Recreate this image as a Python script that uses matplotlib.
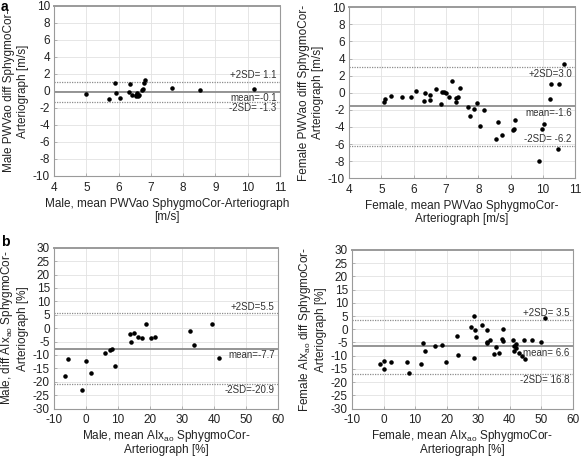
import matplotlib
matplotlib.use("Agg")
import matplotlib.pyplot as plt

plt.rcParams['font.family'] = ['Liberation Sans', 'DejaVu Sans']
plt.rcParams['mathtext.fontset'] = 'custom'
plt.rcParams['mathtext.rm'] = 'Liberation Sans'
plt.rcParams['mathtext.it'] = 'Liberation Sans:italic'
plt.rcParams['axes.unicode_minus'] = False

# a, male PWVao: mean vs diff
male_pwv_mean = [5.0, 5.69, 5.9, 5.92, 6.05, 6.34, 6.32, 6.41, 6.54, 6.57, 6.59, 6.63,
                 6.54, 6.71, 6.75, 6.8, 6.83, 7.65, 8.52, 10.2]
male_pwv_diff = [-0.4, -0.9, 0.94, -0.27, -0.78, 0.82, -0.16, -0.5, -0.43, -0.24, -0.6, -0.5,
                 -0.6, 0.08, 0.27, 0.9, 1.25, 0.3, 0.1, 0.2]
male_pwv_lines = [-0.1, 1.1, -1.3]

# a, female PWVao
female_pwv_mean = [5.08, 5.11, 5.29, 5.64, 5.91, 6.06, 6.32, 6.34, 6.5, 6.49, 6.7, 6.83,
                   6.88, 6.94, 6.99, 7.1, 7.2, 7.3, 7.32, 7.36, 7.43, 7.67, 7.73, 7.86,
                   7.96, 8.06, 8.18, 8.6, 8.55, 8.73, 9.15, 9.09, 9.07, 9.97, 10.03, 9.88,
                   10.47, 10.21, 10.26, 10.51, 10.64]
female_pwv_diff = [-1.09, -0.74, -0.39, -0.47, -0.55, 0.19, -0.97, 0.0, -0.31, -0.82, 0.47, -1.29,
                   0.12, 0.12, 0.0, -0.55, 1.36, -1.09, -0.66, -0.5, 0.55, -1.72, -2.77, -1.87,
                   -1.21, -3.9, -1.99, -3.43, -5.46, -4.95, -3.16, -4.25, -4.41, -4.21, -3.63, -8.03,
                   -6.63, -0.74, 0.97, 0.97, 3.39]
female_pwv_lines = [-1.6, 3.0, -6.2]

# b, male AIxao
male_aix_mean = [-6.67, -5.52, -1.35, 0.1, 1.46, 5.83, 7.6, 8.0, 9.06, 13.85, 14.2, 15.1,
                 16.35, 17.6, 18.75, 20.2, 21.5, 32.6, 33.85, 39.5, 41.7]
male_aix_diff = [-18.0, -11.6, -23.1, -12.1, -16.9, -9.3, -8.1, -7.6, -14.1, -2.2, -5.3, -1.96,
                 -3.2, -3.7, 1.47, -3.8, -3.4, -1.0, -6.2, 1.6, -11.3]
male_aix_lines = [-7.7, 5.5, -20.9]

# b, female AIxao
female_aix_mean = [-1.26, 0.21, 0.1, 2.2, 7.26, 8.0, 11.7, 12.6, 13.26, 16.3, 18.6, 19.8,
                   23.3, 23.7, 27.8, 28.7, 28.85, 29.3, 28.6, 31.3, 32.8, 32.7, 32.8, 33.8,
                   35.05, 35.6, 36.7, 37.7, 37.6, 38.0, 41.05, 41.3, 41.3, 42.0, 42.0, 42.85,
                   43.9, 44.8, 44.5, 47.0, 49.8, 51.2]
female_aix_diff = [-13.1, -11.95, -15.1, -12.2, -12.45, -16.7, -13.3, -5.1, -8.3, -6.5, -6.0, -12.2,
                   -2.4, -9.8, 1.0, 5.0, -0.1, -3.0, -10.8, 1.5, -0.1, -4.86, -5.35, -4.1,
                   -9.46, -6.6, -9.0, 0.0, -3.7, -4.4, -4.2, -8.3, -6.35, -5.5, -7.2, -9.0,
                   -10.1, -11.3, -4.1, -4.2, -4.7, 4.1]
female_aix_lines = [-6.5, 3.6, -17.0]

fig = plt.figure(figsize=(5.81, 4.57), dpi=100)


def bland_altman(rect, x, y, lines, labels, label_pos, xlim, xticks, ylim, yticks,
                 xlabel, ylabel, xpad=3):
    ax = fig.add_axes(rect)
    ax.set_xlim(*xlim)
    ax.set_ylim(*ylim)
    ax.set_xticks(xticks)
    ax.set_yticks(yticks)
    ax.grid(True, color='#e2e2e2', linewidth=0.6)
    ax.set_axisbelow(True)
    for s in ax.spines.values():
        s.set_color('#9a9a9a')
        s.set_linewidth(0.8)
    ax.spines['top'].set_linewidth(1.4)
    ax.tick_params(direction='in', length=2, width=0.5, color='#9a9a9a', labelsize=8.5,
                   labelcolor='#222222')
    ax.tick_params(axis='x', pad=4)
    ax.tick_params(axis='y', pad=3)

    # mean solid, +/-2SD dotted
    ax.axhline(lines[0], color='#8c8c8c', linewidth=1.3)
    ax.axhline(lines[1], color='#8c8c8c', linewidth=0.9, linestyle=(0, (1, 1)))
    ax.axhline(lines[2], color='#8c8c8c', linewidth=0.9, linestyle=(0, (1, 1)))
    ax.scatter(x, y, s=5, color='black', zorder=3)

    span = ylim[1] - ylim[0]
    for val, txt, pos in zip(lines, labels, label_pos):
        off = 0.008 * span if pos == 'above' else -0.008 * span
        va = 'bottom' if pos == 'above' else 'top'
        ax.text(xlim[1] - 0.015 * (xlim[1] - xlim[0]), val + off, txt, ha='right', va=va,
                fontsize=7, color='#333333')

    ax.set_xlabel(xlabel, fontsize=8.5, color='#222222', labelpad=xpad, linespacing=1.1)
    ax.set_ylabel(ylabel, fontsize=8.5, color='#222222', labelpad=3, linespacing=1.15)
    return ax


pwv_xticks = [4, 5, 6, 7, 8, 9, 10, 11]
pwv_yticks = [-10, -8, -6, -4, -2, 0, 2, 4, 6, 8, 10]
aix_xticks = [-10, 0, 10, 20, 30, 40, 50, 60]
aix_yticks = [-30, -25, -20, -15, -10, -5, 0, 5, 10, 15, 20, 25, 30]

bland_altman([0.093, 0.615, 0.389, 0.372], male_pwv_mean, male_pwv_diff, male_pwv_lines,
             ['mean=-0.1', '+2SD= 1.1', '-2SD= -1.3'], ['below', 'above', 'below'],
             (4, 11), pwv_xticks, (-10, 10), pwv_yticks,
             'Male, mean PWVao SphygmoCor-Arteriograph\n[m/s]',
             'Male PWVao diff SphygmoCor-\nArteriograph [m/s]')

bland_altman([0.601, 0.610, 0.389, 0.374], female_pwv_mean, female_pwv_diff, female_pwv_lines,
             ['mean=-1.6', '+2SD=3.0', '-2SD= -6.2'], ['below', 'below', 'above'],
             (4, 11), pwv_xticks, (-10, 10), pwv_yticks,
             'Female, mean PWVao SphygmoCor-\nArteriograph [m/s]',
             'Female PWVao diff SphygmoCor-\nArteriograph [m/s]')

bland_altman([0.093, 0.106, 0.3855, 0.352], male_aix_mean, male_aix_diff, male_aix_lines,
             ['mean=-7.7', '+2SD=5.5', '-2SD=-20.9'], ['below', 'above', 'below'],
             (-10, 60), aix_xticks, (-30, 30), aix_yticks,
             'Male, mean AIx$_{\\mathrm{ao}}$ SphygmoCor-\nArteriograph [%]',
             'Male, diff AIx$_{\\mathrm{ao}}$ SphygmoCor-\nArteriograph [%]', xpad=1)

bland_altman([0.606, 0.106, 0.380, 0.347], female_aix_mean, female_aix_diff, female_aix_lines,
             ['mean= 6.6', '+2SD= 3.5', '-2SD= 16.8'], ['below', 'above', 'below'],
             (-10, 60), aix_xticks, (-30, 30), aix_yticks,
             'Female, mean AIx$_{\\mathrm{ao}}$ SphygmoCor-\nArteriograph [%]',
             'Female AIx$_{\\mathrm{ao}}$ diff SphygmoCor-\nArteriograph [%]', xpad=1)

fig.text(0.001, 0.999, 'a', fontsize=10, fontweight='bold', va='top', ha='left')
fig.text(0.001, 0.485, 'b', fontsize=10, fontweight='bold', va='top', ha='left')

fig.savefig('out.png', dpi=100)
